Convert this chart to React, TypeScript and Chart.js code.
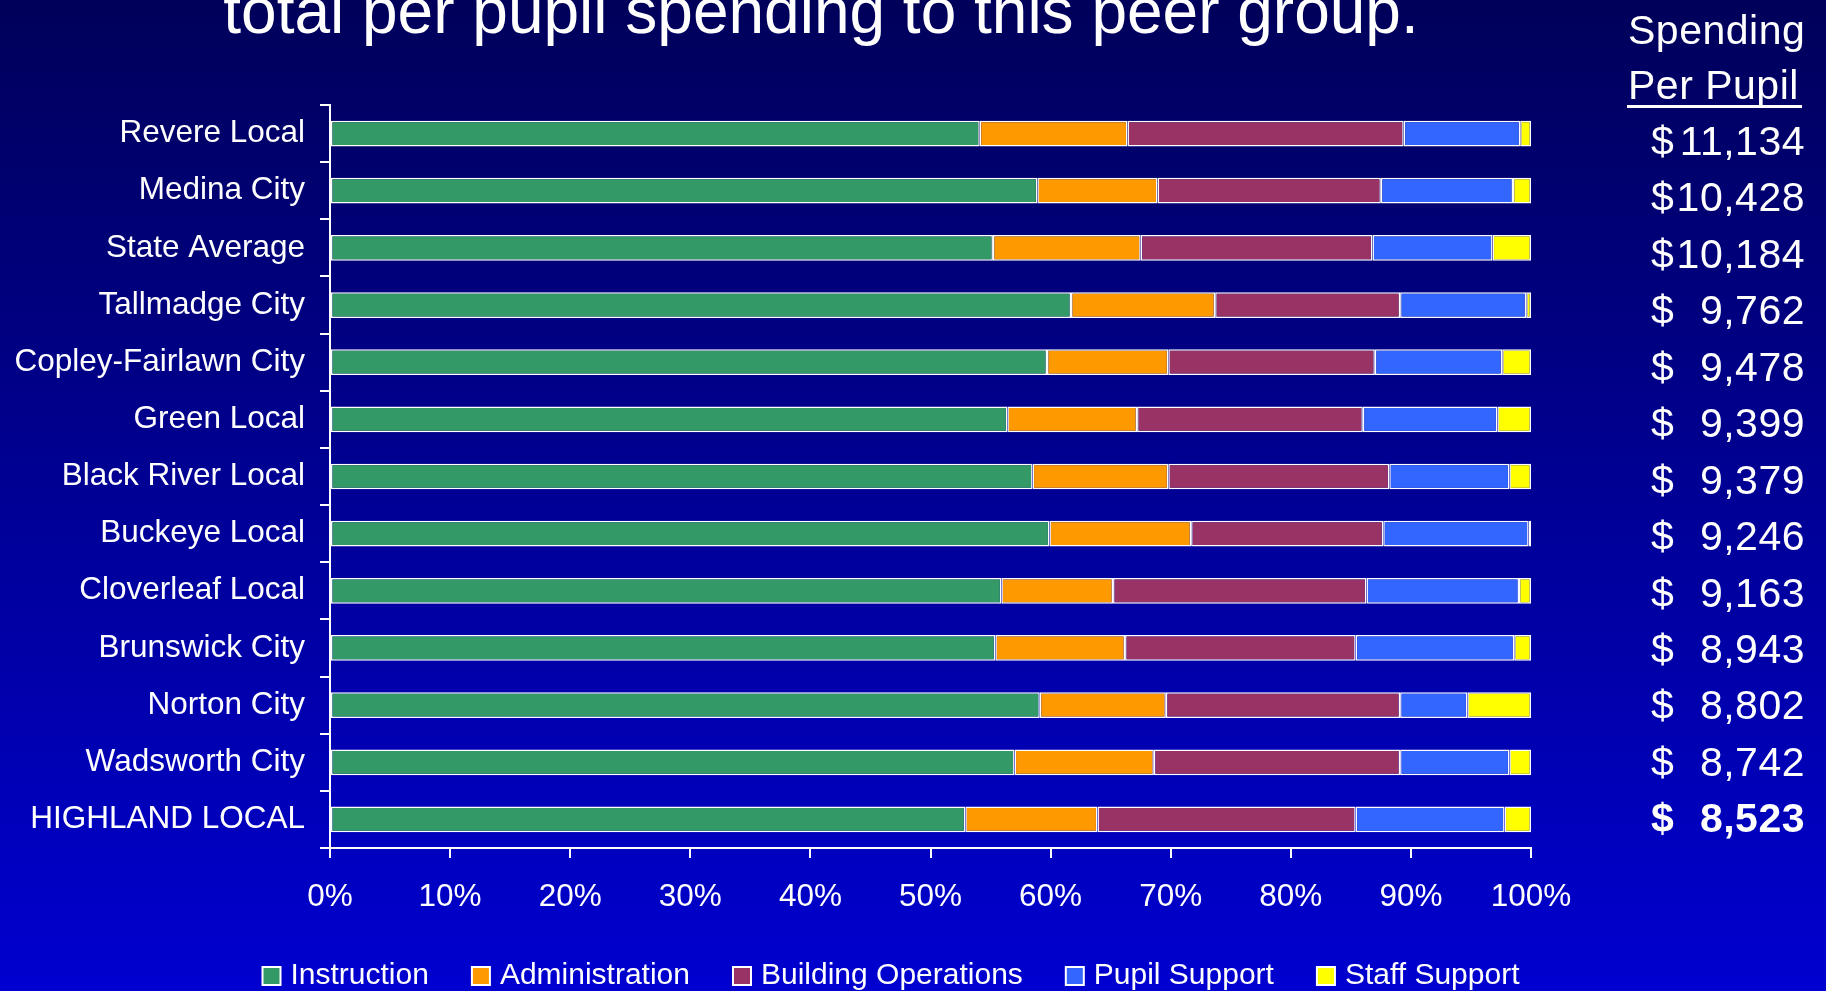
import { useEffect, useRef } from "react";
import { Chart, registerables } from "chart.js";
Chart.register(...registerables);

const categories = [
  "Revere Local",
  "Medina City",
  "State Average",
  "Tallmadge City",
  "Copley-Fairlawn City",
  "Green Local",
  "Black River Local",
  "Buckeye Local",
  "Cloverleaf Local",
  "Brunswick City",
  "Norton City",
  "Wadsworth City",
  "HIGHLAND LOCAL",
];
const instruction = [54.1, 58.9, 55.2, 61.7, 59.7, 56.4, 58.5, 59.9, 55.9, 55.4, 59.1, 57.0, 52.9];
const administration = [12.3, 10.0, 12.3, 12.0, 10.1, 10.8, 11.3, 11.8, 9.3, 10.8, 10.5, 11.6, 11.0];
const buildingOperations = [23.0, 18.6, 19.3, 15.4, 17.2, 18.8, 18.4, 16.0, 21.1, 19.2, 19.5, 20.5, 21.5];
const pupilSupport = [9.7, 11.0, 10.0, 10.5, 10.6, 11.2, 10.0, 12.1, 12.7, 13.2, 5.6, 9.1, 12.4];
const staffSupport = [0.9, 1.5, 3.2, 0.4, 2.4, 2.8, 1.8, 0.2, 1.0, 1.4, 5.3, 1.8, 2.2];
const spendingPerPupil = [11134, 10428, 10184, 9762, 9478, 9399, 9379, 9246, 9163, 8943, 8802, 8742, 8523];
const seriesNames = ["Instruction", "Administration", "Building Operations", "Pupil Support", "Staff Support"];
const seriesColors = ["#339966", "#FF9900", "#993366", "#3366FF", "#FFFF00"];
const titleText = "total per pupil spending to this peer group.";
const headerLines = ["Spending", "Per Pupil"];

const FONT = '"Liberation Sans", Arial, sans-serif';

export default function App() {
  const ref = useRef<HTMLCanvasElement | null>(null);

  useEffect(() => {
    const canvas = ref.current;
    if (!canvas) return;
    const seriesData = [instruction, administration, buildingOperations, pupilSupport, staffSupport];

    const overlay = {
      id: "overlay",
      afterDraw(chart: any) {
        const ctx = chart.ctx as CanvasRenderingContext2D;
        const yScale = chart.scales.y;
        ctx.save();
        ctx.fillStyle = "#ffffff";
        ctx.strokeStyle = "#ffffff";

        // title (cut off at top)
        ctx.font = `64px ${FONT}`;
        ctx.textAlign = "center";
        ctx.textBaseline = "alphabetic";
        ctx.fillText(titleText, 821, 33);

        // header
        (ctx as any).letterSpacing = "0.5px";
        ctx.font = `41px ${FONT}`;
        ctx.textAlign = "left";
        ctx.textBaseline = "middle";
        ctx.fillText(headerLines[0], 1628, 33);
        ctx.fillText(headerLines[1], 1628, 88);
        ctx.fillRect(1627, 105, 175, 3);

        // values
        spendingPerPupil.forEach((v, i) => {
          const y = yScale.getPixelForValue(i) + 10 - i * 0.7;
          ctx.font = `${i === spendingPerPupil.length - 1 ? "bold " : ""}41px ${FONT}`;
          ctx.textAlign = "left";
          ctx.fillText("$", 1651, y);
          ctx.textAlign = "right";
          ctx.fillText(v.toLocaleString("en-US"), 1805, y);
        });
        (ctx as any).letterSpacing = "0px";

        // legend
        ctx.font = `30px ${FONT}`;
        ctx.textAlign = "left";
        ctx.textBaseline = "middle";
        const box = 18, gap = 10, spacing = 43;
        const widths = seriesNames.map((n) => ctx.measureText(n).width);
        const total = widths.reduce((a, w) => a + box + gap + w, 0) + spacing * (seriesNames.length - 1);
        let x = 891 - total / 2;
        const ly = 976;
        seriesNames.forEach((n, i) => {
          ctx.fillStyle = seriesColors[i];
          ctx.fillRect(x, ly - box / 2, box, box);
          ctx.lineWidth = 2;
          ctx.strokeStyle = "#ffffff";
          ctx.strokeRect(x, ly - box / 2, box, box);
          ctx.fillStyle = "#ffffff";
          ctx.fillText(n, x + box + gap, ly);
          x += box + gap + widths[i] + spacing;
        });
        ctx.restore();
      },
    };

    const chart = new Chart(canvas, {
      type: "bar",
      data: {
        labels: categories,
        datasets: seriesNames.map((name, i) => ({
          label: name,
          data: seriesData[i],
          backgroundColor: seriesColors[i],
          borderColor: "#ffffff",
          borderWidth: 1.5,
          borderSkipped: false,
          barPercentage: 0.45,
          categoryPercentage: 1,
        })),
      },
      options: {
        indexAxis: "y",
        animation: false,
        responsive: false,
        devicePixelRatio: 1,
        layout: { padding: { top: 105, right: 295, bottom: 0, left: 0 } },
        plugins: { legend: { display: false }, tooltip: { enabled: false }, title: { display: false } },
        scales: {
          x: {
            stacked: true,
            min: 0,
            max: 100,
            afterFit: (s: any) => {
              s.height = 143;
            },
            ticks: {
              stepSize: 10,
              color: "#ffffff",
              font: { family: FONT, size: 31.5 },
              padding: 20,
              maxRotation: 0,
              callback: (v: any) => `${v}%`,
            },
            grid: { drawOnChartArea: false, drawTicks: true, tickLength: 10, color: "#ffffff", lineWidth: 2 },
            border: { display: true, color: "#ffffff", width: 2 },
          },
          y: {
            stacked: true,
            afterFit: (s: any) => {
              s.width = 330;
            },
            ticks: {
              color: "#ffffff",
              font: { family: FONT, size: 31.5 },
              padding: 15,
            },
            grid: { drawOnChartArea: false, drawTicks: true, tickLength: 10, color: "#ffffff", lineWidth: 2, offset: true },
            border: { display: true, color: "#ffffff", width: 2 },
          },
        },
      },
      plugins: [overlay],
    } as any);
    return () => chart.destroy();
  }, []);

  return (
    <div
      style={{
        position: "fixed",
        left: 0,
        top: 0,
        width: 1826,
        height: 991,
        overflow: "hidden",
        background: "linear-gradient(to bottom, #00005A 0%, #0000D0 100%)",
      }}
    >
      <canvas ref={ref} width={1826} height={991} style={{ display: "block", width: 1826, height: 991 }} />
    </div>
  );
}
